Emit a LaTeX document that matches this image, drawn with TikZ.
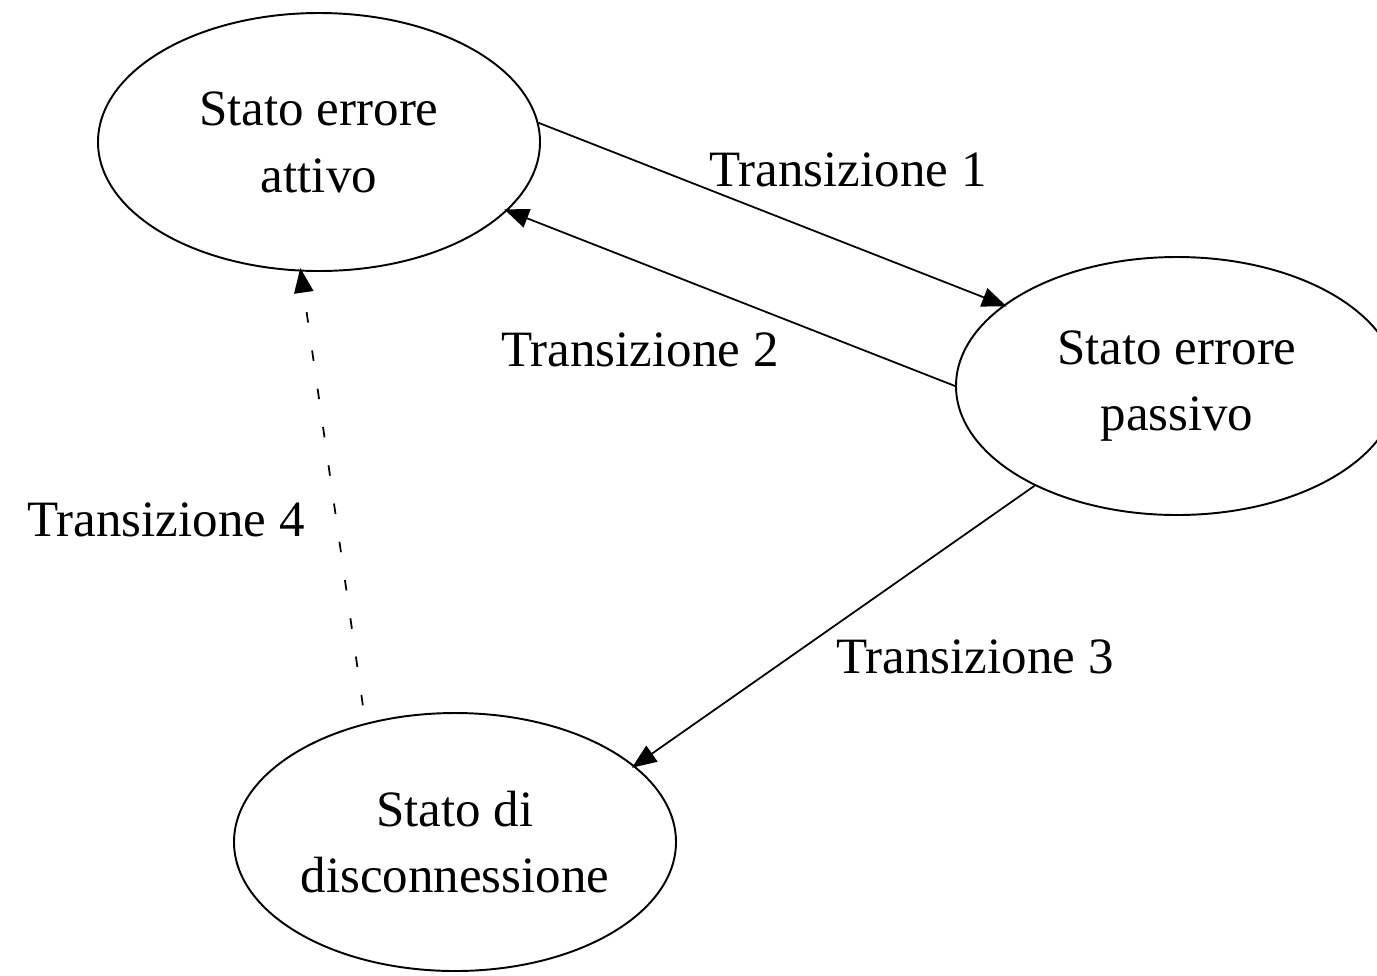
\documentclass[tikz,border=0pt]{standalone}
\usepackage{fontspec}
\setmainfont{Liberation Serif}
\usetikzlibrary{shapes.geometric, arrows.meta}

\begin{document}
\begin{tikzpicture}[
  stato/.style={ellipse, draw=black, line width=0.55pt, inner sep=0pt, align=center,
    minimum width=4.42cm, minimum height=2.58cm, font=\fontsize{14.5pt}{19pt}\selectfont},
  trans/.style={-{Triangle[length=7pt,width=5.5pt]}, line width=0.5pt, shorten >=-1pt},
  etich/.style={font=\fontsize{14.5pt}{19pt}\selectfont, inner sep=0pt}]
\useasboundingbox (0,0) rectangle (13.77,-9.75);

\node[stato] (attivo) at (3.19,-1.42) {Stato errore\\attivo};
\node[stato] (passivo) at (11.77,-3.86) {Stato errore\\passivo};
\node[stato] (disc) at (4.55,-8.42) {Stato di\\disconnessione};

\draw[trans] (attivo.5) -- (passivo.155);
\draw[trans] (passivo.180) -- (attivo.-20);
\draw[trans] (passivo.215) -- (disc.23);
\draw[trans, dash pattern=on 3pt off 8pt, shorten <=0.18cm] (disc.127) -- (attivo.-98);

\node[etich] (t1) at (8.48,-1.70) {Transizione 1};
\node[etich] (t2) at (6.40,-3.50) {Transizione 2};
\node[etich] (t3) at (9.75,-6.57) {Transizione 3};
\node[etich] (t4) at (1.66,-5.20) {Transizione 4};
\end{tikzpicture}
\end{document}
